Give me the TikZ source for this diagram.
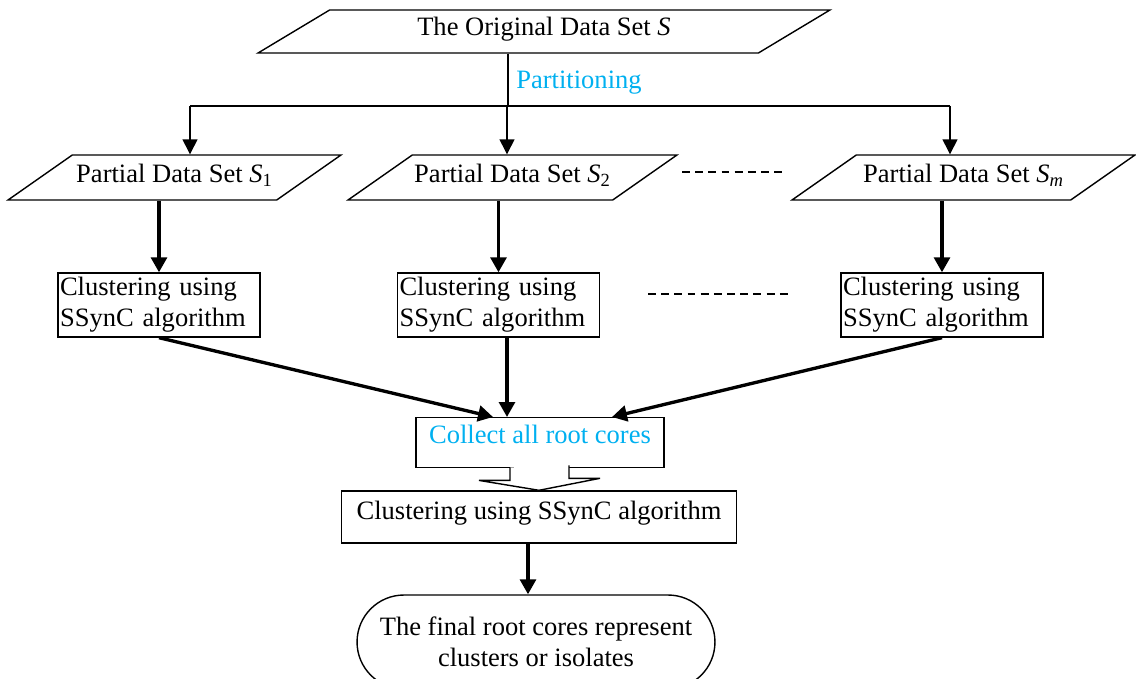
\documentclass[tikz,border=0pt]{standalone}
\usepackage{fontspec}
\setmainfont{Liberation Serif}
\usetikzlibrary{shapes.geometric,shapes.misc,arrows.meta,calc}
\definecolor{partblue}{RGB}{0,176,240}

\tikzset{
  dataset/.style={trapezium, trapezium left angle=35, trapezium right angle=145,
    trapezium stretches body, draw, line width=0.8pt, inner sep=0pt, minimum height=0.9cm,
    text height=0.55cm, text depth=0.35cm},
  clusterbox/.style={draw, line width=0.8pt, align=left, text width=3.96cm,
    inner xsep=0.04cm, inner ysep=0pt, minimum height=1.28cm},
  thinarrow/.style={line width=0.8pt, -{Triangle[width=8.5pt,length=8.5pt]}},
  thickarrow/.style={line width=1.9pt, -{Triangle[width=9pt,length=8.5pt]}},
  bluetext/.style={text=partblue},
}

\begin{document}
\begin{tikzpicture}[x=0.02cm, y=-0.02cm, font=\fontsize{15.1pt}{17.8pt}\selectfont]
                \useasboundingbox (0,0) rectangle (1136,679);

                % Original data set and partitioning
                \node[dataset, minimum width=11.44cm, minimum height=0.86cm, text height=0.52cm, text depth=0.34cm,
                  trapezium left angle=31, trapezium right angle=149] (orig) at (544,31.5) {The Original Data Set \textit{S}};
                \coordinate (split) at (508,106);
                \coordinate (s1) at (190,106);
                \coordinate (s2) at (507,106);
                \coordinate (sm) at (950,106);
                \draw[line width=0.8pt] (orig.south -| split) -- (split);
                \draw[line width=0.8pt] (s1) -- (sm);
                \node[bluetext, anchor=west, inner sep=0pt] (parttext) at (516,83) {Partitioning};

                % Partial data sets
                \node[dataset, minimum width=6.66cm] (p1) at (174.5,177.5) {Partial Data Set \textit{S}\textsubscript{1}};
                \node[dataset, minimum width=6.58cm] (p2) at (512.5,177.5) {Partial Data Set \textit{S}\textsubscript{2}};
                \node[dataset, minimum width=6.86cm] (pm) at (963.5,177.5) {Partial Data Set \textit{S}\textsubscript{\textit{m}}};
                \foreach \s/\p in {s1/p1, s2/p2, sm/pm} {
                    \draw[thinarrow] (\s) -- (\s |- \p.north);
                }

                % Local clustering
                \node[clusterbox] (b1) at (159,305) {Clustering using\\SSynC algorithm};
                \node[clusterbox] (b2) at (498.5,305) {Clustering using\\SSynC algorithm};
                \node[clusterbox] (bm) at (942,305) {Clustering using\\SSynC algorithm};
                \foreach \p/\b in {p1/b1, p2/b2, pm/bm} {
                    \draw[thickarrow] (\p.south -| \b.north) -- (\b.north);
                }

                % Dots between the columns
                \coordinate (dota) at (682,172);
                \coordinate (dotb) at (787,172);
                \coordinate (dotc) at (648,294);
                \coordinate (dotd) at (792,294);
                \draw[line width=0.8pt, dash pattern=on 4.5pt off 3pt] (dota) -- (dotb);
                \draw[line width=0.8pt, dash pattern=on 4.5pt off 3pt] (dotc) -- (dotd);

                % Collecting the root cores
                \node[draw, line width=0.8pt, bluetext, minimum width=4.96cm, minimum height=1cm,
                  text height=0.52cm, text depth=0.48cm, inner sep=0pt, anchor=north] (coll) at (540,417) {Collect all root cores};
                \coordinate (in1) at ($(coll.north)+(-47,0)$);
                \coordinate (in2) at ($(coll.north)+(-33,0)$);
                \coordinate (in3) at ($(coll.north)+(72,0)$);
                \draw[thickarrow] (b1.south) -- (in1);
                \draw[thickarrow] (in2 |- b2.south) -- (in2);
                \draw[thickarrow] (bm.south) -- (in3);

                % Global clustering
                \node[draw, line width=0.8pt, minimum width=7.9cm, minimum height=1.04cm,
                  text height=0.56cm, text depth=0.48cm, inner sep=0pt] (fin) at (539,517) {Clustering using SSynC algorithm};
                \draw[line width=0.8pt, fill=white] ($(coll.south)+(-30,-1)$) -- ++(0,13) -- ++(-31,0)
                  -- (fin.north) -- ++(61,-12) -- ++(-31,0) -- ++(0,-13);

                % Final result
                \node[rounded rectangle, draw, line width=0.8pt, align=center, minimum width=7.16cm,
                  minimum height=1.88cm, inner sep=0pt] (term) at (536,642) {The final root cores represent\\clusters or isolates};
                \coordinate (finout) at ($(fin.south)+(-11,0)$);
                \draw[thickarrow] (finout) -- (finout |- term.north);
\end{tikzpicture}
\end{document}
